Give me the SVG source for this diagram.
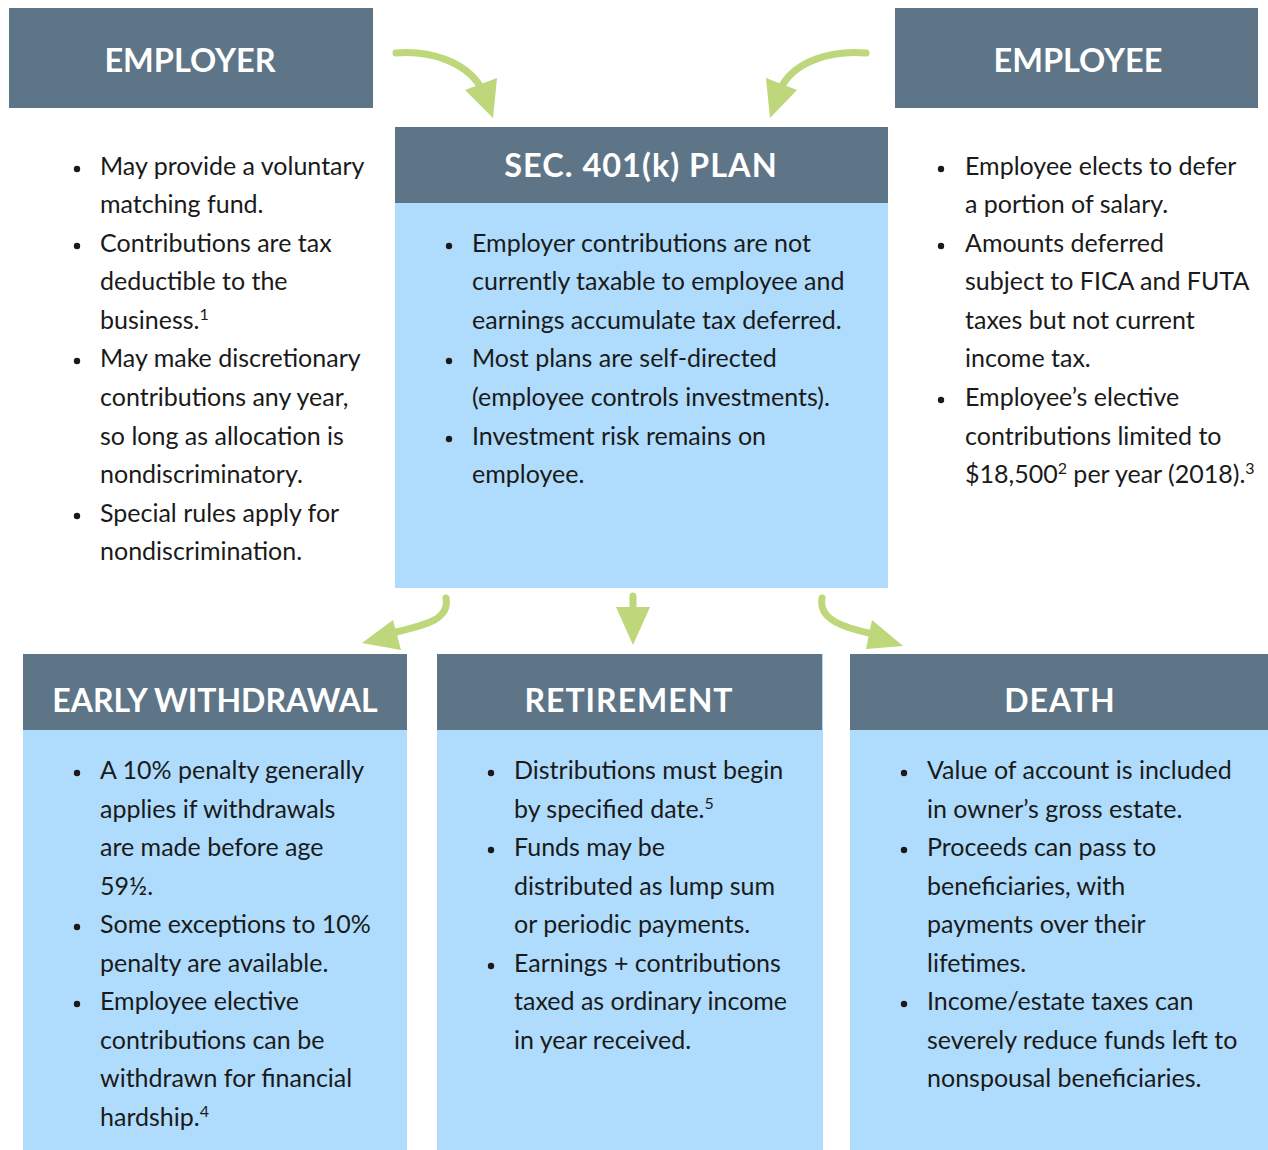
<svg xmlns="http://www.w3.org/2000/svg" width="1268" height="1150" viewBox="0 0 1268 1150">
<defs>
<style>
.hdr{fill:#5E7587}
.body{fill:#AFDCFC}
.ht{font-family:Lato,"Noto Sans",sans-serif;font-weight:bold;font-size:32.5px;fill:#fff;text-anchor:middle}
.hb{font-size:32px}
.hs{letter-spacing:1px}
.t{font-family:Lato,"Noto Sans",sans-serif;font-size:25px;fill:#1a1a1a}
.sup{font-size:16px}
.dot{fill:#1a1a1a}
.arr{fill:none;stroke:#BDD77A;stroke-width:7;stroke-linecap:round}
.head{fill:#BDD77A}
</style>
</defs>
<rect width="1268" height="1150" fill="#fff"/>

<g id="employer">
<rect class="hdr" x="9" y="8" width="364" height="100"/>
<text class="ht" x="190" y="72">EMPLOYER</text>
<circle class="dot" cx="77" cy="169" r="3.2"/>
<text class="t" x="100" y="175">May provide a voluntary</text>
<text class="t" x="100" y="213">matching fund.</text>
<circle class="dot" cx="77" cy="246" r="3.2"/>
<text class="t" x="100" y="252">Contributions are tax</text>
<text class="t" x="100" y="290">deductible to the</text>
<text class="t" x="100" y="329">business.<tspan class="sup" dy="-9">1</tspan></text>
<circle class="dot" cx="77" cy="361" r="3.2"/>
<text class="t" x="100" y="367">May make discretionary</text>
<text class="t" x="100" y="406">contributions any year,</text>
<text class="t" x="100" y="445">so long as allocation is</text>
<text class="t" x="100" y="483">nondiscriminatory.</text>
<circle class="dot" cx="77" cy="516" r="3.2"/>
<text class="t" x="100" y="522">Special rules apply for</text>
<text class="t" x="100" y="560">nondiscrimination.</text>
</g>

<g id="employee">
<rect class="hdr" x="895" y="8" width="363" height="100"/>
<text class="ht" x="1078" y="72">EMPLOYEE</text>
<circle class="dot" cx="941" cy="169" r="3.2"/>
<text class="t" x="965" y="175">Employee elects to defer</text>
<text class="t" x="965" y="213">a portion of salary.</text>
<circle class="dot" cx="941" cy="246" r="3.2"/>
<text class="t" x="965" y="252">Amounts deferred</text>
<text class="t" x="965" y="290">subject to FICA and FUTA</text>
<text class="t" x="965" y="329">taxes but not current</text>
<text class="t" x="965" y="367">income tax.</text>
<circle class="dot" cx="941" cy="400" r="3.2"/>
<text class="t" x="965" y="406">Employee’s elective</text>
<text class="t" x="965" y="445">contributions limited to</text>
<text class="t" x="965" y="483">$18,500<tspan class="sup" dy="-9">2</tspan><tspan dy="9"> per year (2018).</tspan><tspan class="sup" dy="-9">3</tspan></text>
</g>

<g id="plan">
<rect class="body" x="395" y="127" width="493" height="461"/>
<rect class="hdr" x="395" y="127" width="493" height="76"/>
<text class="ht hs" x="641" y="177">SEC. 401(k) PLAN</text>
<circle class="dot" cx="449" cy="246" r="3.2"/>
<text class="t" x="472" y="252">Employer contributions are not</text>
<text class="t" x="472" y="290">currently taxable to employee and</text>
<text class="t" x="472" y="329">earnings accumulate tax deferred.</text>
<circle class="dot" cx="449" cy="361" r="3.2"/>
<text class="t" x="472" y="367">Most plans are self-directed</text>
<text class="t" x="472" y="406">(employee controls investments).</text>
<circle class="dot" cx="449" cy="439" r="3.2"/>
<text class="t" x="472" y="445">Investment risk remains on</text>
<text class="t" x="472" y="483">employee.</text>
</g>

<g id="early">
<rect class="body" x="23" y="654" width="384" height="496"/>
<rect class="hdr" x="23" y="654" width="384" height="76"/>
<text class="ht hb" x="215" y="712">EARLY WITHDRAWAL</text>
<circle class="dot" cx="77" cy="773" r="3.2"/>
<text class="t" x="100" y="779">A 10% penalty generally</text>
<text class="t" x="100" y="818">applies if withdrawals</text>
<text class="t" x="100" y="856">are made before age</text>
<text class="t" x="100" y="895">59½.</text>
<circle class="dot" cx="77" cy="927" r="3.2"/>
<text class="t" x="100" y="933">Some exceptions to 10%</text>
<text class="t" x="100" y="972">penalty are available.</text>
<circle class="dot" cx="77" cy="1004" r="3.2"/>
<text class="t" x="100" y="1010">Employee elective</text>
<text class="t" x="100" y="1049">contributions can be</text>
<text class="t" x="100" y="1087">withdrawn for financial</text>
<text class="t" x="100" y="1126">hardship.<tspan class="sup" dy="-9">4</tspan></text>
</g>

<g id="retirement">
<rect class="body" x="437" y="654" width="386" height="496"/>
<rect class="hdr" x="437" y="654" width="385" height="76"/>
<text class="ht hb hs" x="629" y="712">RETIREMENT</text>
<circle class="dot" cx="491" cy="773" r="3.2"/>
<text class="t" x="514" y="779">Distributions must begin</text>
<text class="t" x="514" y="818">by specified date.<tspan class="sup" dy="-9">5</tspan></text>
<circle class="dot" cx="491" cy="850" r="3.2"/>
<text class="t" x="514" y="856">Funds may be</text>
<text class="t" x="514" y="895">distributed as lump sum</text>
<text class="t" x="514" y="933">or periodic payments.</text>
<circle class="dot" cx="491" cy="966" r="3.2"/>
<text class="t" x="514" y="972">Earnings + contributions</text>
<text class="t" x="514" y="1010">taxed as ordinary income</text>
<text class="t" x="514" y="1049">in year received.</text>
</g>

<g id="death">
<rect class="body" x="850" y="654" width="418" height="496"/>
<rect class="hdr" x="850" y="654" width="418" height="76"/>
<text class="ht hb hs" x="1060" y="712">DEATH</text>
<circle class="dot" cx="904" cy="773" r="3.2"/>
<text class="t" x="927" y="779">Value of account is included</text>
<text class="t" x="927" y="818">in owner’s gross estate.</text>
<circle class="dot" cx="904" cy="850" r="3.2"/>
<text class="t" x="927" y="856">Proceeds can pass to</text>
<text class="t" x="927" y="895">beneficiaries, with</text>
<text class="t" x="927" y="933">payments over their</text>
<text class="t" x="927" y="972">lifetimes.</text>
<circle class="dot" cx="904" cy="1004" r="3.2"/>
<text class="t" x="927" y="1010">Income/estate taxes can</text>
<text class="t" x="927" y="1049">severely reduce funds left to</text>
<text class="t" x="927" y="1087">nonspousal beneficiaries.</text>
</g>

<g id="connectors">
<path class="arr" d="M396,53 C430,50 465,62 480,86"/>
<polygon class="head" points="465,90 497,78 493,118"/>
<path class="arr" d="M866,53 C830,50 795,62 782,86"/>
<polygon class="head" points="766,78 797,90 770,118"/>
<path class="arr" d="M446,598 C450,620 425,625 392,633"/>
<polygon class="head" points="393,620 401,650 362,643"/>
<path class="arr" d="M633,596 L633,612"/>
<polygon class="head" points="616,607 650,607 633,645"/>
<path class="arr" d="M822,598 C818,620 845,628 873,634"/>
<polygon class="head" points="872,620 866,649 903,646"/>
</g>
</svg>
